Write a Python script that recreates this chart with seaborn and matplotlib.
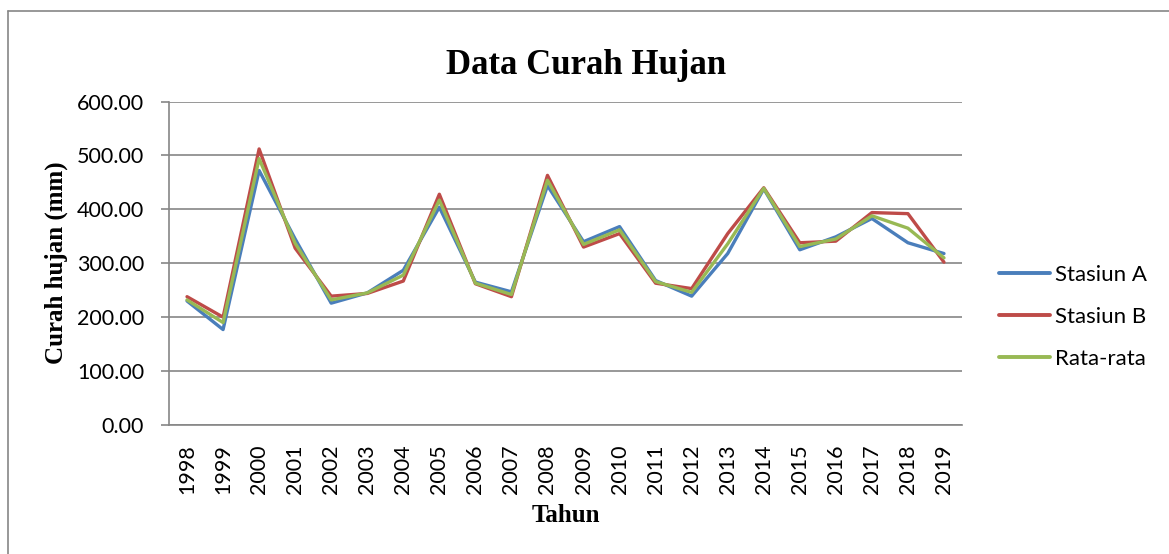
import numpy as np
import pandas as pd
import seaborn as sns
import matplotlib.pyplot as plt
from matplotlib.lines import Line2D

# rainfall data (mm)
tahun = list(range(1998, 2020))
stasiun_a = [230, 177, 472, 345, 226, 245, 287, 404, 265, 247, 444,
             340, 368, 268, 239, 318, 438, 325, 349, 383, 338, 318]
stasiun_b = [238, 200, 512, 328, 239, 244, 267, 428, 262, 238, 463,
             330, 355, 263, 253, 355, 440, 338, 341, 394, 392, 302]
rata_rata = [232, 190, 494, 337, 232, 245, 278, 417, 263, 242, 454,
             335, 362, 266, 246, 336, 439, 331, 345, 388, 365, 310]

df = pd.DataFrame({'Tahun': tahun, 'Stasiun A': stasiun_a,
                   'Stasiun B': stasiun_b, 'Rata-rata': rata_rata})
long = df.melt(id_vars='Tahun', var_name='Seri', value_name='Curah')

sns.set_style('white')
plt.rcParams['text.color'] = 'black'
plt.rcParams['xtick.color'] = 'black'
plt.rcParams['ytick.color'] = 'black'

W, H = 1169, 554
fig = plt.figure(figsize=(W / 100, H / 100), dpi=100)
ax = fig.add_axes([169 / W, 1 - 425 / H, (962 - 169) / W, (425 - 101.5) / H])

palette = {'Stasiun A': '#4a7ebb', 'Stasiun B': '#be4b48', 'Rata-rata': '#98b954'}
sns.lineplot(data=long, x='Tahun', y='Curah', hue='Seri', palette=palette,
             linewidth=2.4, ax=ax, legend=True)

grid_c = '#868686'
ax.set_xlim(1997.5, 2019.5)
ax.set_ylim(0, 600)
ax.set_yticks(range(0, 601, 100))
ax.set_yticklabels([f'{v:.2f}' for v in range(0, 601, 100)], fontfamily='Lato', fontsize=15.5)
ax.set_xticks(tahun)
ax.set_xticklabels([str(t) for t in tahun], rotation=90, fontfamily='Lato', fontsize=15.5)
ax.set_xticks(np.arange(1997.5, 2020, 1), minor=True)
ax.tick_params(axis='x', which='major', length=0, pad=14, labelcolor='black')
ax.tick_params(axis='x', which='minor', length=6, width=1.2, color=grid_c, direction='out')
ax.tick_params(axis='y', length=6, width=1.2, color=grid_c, direction='out', pad=12,
               left=True, labelcolor='black')
ax.yaxis.grid(True, color=grid_c, linewidth=1.2)
ax.set_axisbelow(True)
for s in ['top', 'right']:
    ax.spines[s].set_visible(False)
for s in ['left', 'bottom']:
    ax.spines[s].set_color(grid_c)
    ax.spines[s].set_linewidth(1.2)
ax.set_xlabel('')
ax.set_ylabel('')

leg = ax.legend(loc='center left', bbox_to_anchor=(999 / W, 1 - 317 / H),
                bbox_transform=fig.transFigure, frameon=False, borderpad=0,
                borderaxespad=0, handlelength=2.3, handletextpad=0.2,
                labelspacing=1.0, prop={'family': 'Lato', 'size': 16})
for line in leg.get_lines():
    line.set_linewidth(2.8)
for t in leg.get_texts():
    t.set_color('black')

fig.text(586 / W, 1 - 65 / H, 'Data Curah Hujan', ha='center', va='center', color='black',
         fontfamily='Liberation Serif', fontweight='bold', fontsize=25)
fig.text(56 / W, 1 - 263 / H, 'Curah hujan (mm)', ha='center', va='center', rotation=90,
         color='black', fontfamily='Liberation Serif', fontweight='bold', fontsize=18)
fig.text(565.5 / W, 1 - 515 / H, 'Tahun', ha='center', va='center', color='black',
         fontfamily='Liberation Serif', fontweight='bold', fontsize=18)

# outer chart border (only left and top are visible in the crop)
fig.add_artist(Line2D([8 / W, 8 / W], [0, 1 - 11 / H], transform=fig.transFigure,
                      color=grid_c, linewidth=1.2))
fig.add_artist(Line2D([8 / W, 1], [1 - 11 / H, 1 - 11 / H], transform=fig.transFigure,
                      color=grid_c, linewidth=1.2))

fig.savefig('out.png', dpi=100)
